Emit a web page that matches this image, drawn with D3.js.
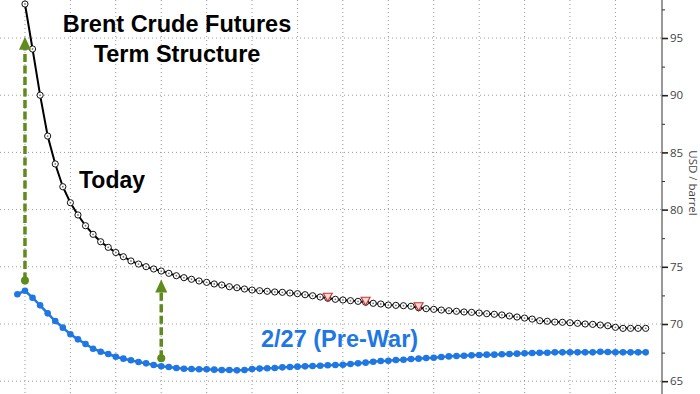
<!DOCTYPE html>
<html>
<head>
<meta charset="utf-8">
<script src="https://cdn.jsdelivr.net/npm/d3@7"></script>
<style>
  html, body { margin: 0; padding: 0; background: #fff; }
  svg { display: block; font-family: "Liberation Sans", Arial, sans-serif; }
</style>
</head>
<body>
<svg id="chart" width="700" height="394"></svg>
<script>
'use strict';

// Brent monthly contracts, index 0 = front month as of 2/27
var prewarCurve = [
    72.60, 72.91, 72.30, 71.63, 70.93, 70.26, 69.68, 69.10, 68.66, 68.25,
    67.84, 67.58, 67.38, 67.14, 66.97, 66.83, 66.68, 66.56, 66.42, 66.30,
    66.24, 66.15, 66.09, 66.07, 66.04, 66.04, 66.01, 65.98, 65.98, 65.95,
    65.98, 66.07, 66.10, 66.13, 66.15, 66.21, 66.24, 66.27, 66.30, 66.33,
    66.35, 66.39, 66.42, 66.44, 66.50, 66.56, 66.62, 66.70, 66.77, 66.79,
    66.85, 66.88, 66.94, 66.97, 67.03, 67.05, 67.11, 67.17, 67.20, 67.23,
    67.26, 67.29, 67.32, 67.32, 67.35, 67.38, 67.41, 67.44, 67.47, 67.49,
    67.49, 67.52, 67.52, 67.52, 67.52, 67.52, 67.52, 67.58, 67.55, 67.52,
    67.52, 67.52, 67.52, 67.52
];

// today's curve starts one contract later (front month has rolled)
var todayStart = 1;
var todayCurve = [
    97.97, 94.04, 90.00, 86.43, 83.99, 82.00, 80.60, 79.53, 78.59, 77.84,
    77.19, 76.70, 76.25, 75.88, 75.51, 75.24, 75.01, 74.81, 74.63, 74.43,
    74.22, 74.05, 73.91, 73.76, 73.64, 73.50, 73.41, 73.26, 73.17, 73.06,
    72.97, 72.91, 72.86, 72.80, 72.77, 72.71, 72.65, 72.56, 72.47, 72.36,
    72.25, 72.16, 72.10, 72.04, 71.98, 71.90, 71.81, 71.75, 71.66, 71.63,
    71.60, 71.55, 71.42, 71.34, 71.28, 71.22, 71.16, 71.11, 71.05, 71.02,
    70.96, 70.90, 70.85, 70.79, 70.70, 70.61, 70.52, 70.43, 70.29, 70.24,
    70.17, 70.15, 70.11, 70.06, 70.00, 69.97, 69.91, 69.85, 69.71, 69.62,
    69.62, 69.62, 69.62
];

var flaggedContracts = [41, 46, 53];
var gridContracts = [1, 7, 13, 19, 25, 31, 37, 43, 49, 55, 61, 67, 73, 79];
var yTicks = [65, 70, 75, 80, 85, 90, 95];
var yMinorTicks = [67.5, 72.5, 77.5, 82.5, 87.5, 92.5, 97.5];
var spreadArrows = [
    {contract: 1, from: 73.8, to: 95.1},
    {contract: 19, from: 67.0, to: 73.9}
];

var width = 700, height = 394, axisX = 662;
var blue = "#1f77e3", green = "#5f8a1c";

var x = d3.scaleLinear().domain([0, 83]).range([17.4, 645.7]);
var y = d3.scaleLinear().domain([65, 95]).range([381.2, 38]);

var svg = d3.select("#chart");

//Gridlines
var grid = svg.append("g").attr("class", "grid")
    .attr("stroke", "#9a9a9a")
    .attr("stroke-dasharray", "1,3");

grid.selectAll(".hgrid")
    .data(yTicks)
    .enter().append("line")
    .attr("class", "hgrid")
    .attr("x1", 0).attr("x2", axisX)
    .attr("y1", function(d) { return y(d); })
    .attr("y2", function(d) { return y(d); });

grid.selectAll(".vgrid")
    .data(gridContracts)
    .enter().append("line")
    .attr("class", "vgrid")
    .attr("x1", function(d) { return x(d); })
    .attr("x2", function(d) { return x(d); })
    .attr("y1", 0).attr("y2", height);

//Right axis
svg.append("line")
    .attr("x1", axisX).attr("x2", axisX)
    .attr("y1", 0).attr("y2", height)
    .attr("stroke", "#333");

var majorAxis = svg.append("g")
    .attr("transform", "translate(" + axisX + ",0)")
    .call(d3.axisRight(y).tickValues(yTicks).tickSize(6).tickPadding(2));
majorAxis.select(".domain").remove();
majorAxis.selectAll(".tick line").attr("stroke", "#222").attr("stroke-width", 1.6);
majorAxis.selectAll(".tick text")
    .attr("fill", "#444")
    .style("font-family", "'Open Sans', 'DejaVu Sans', sans-serif")
    .style("font-size", "11.5px");

var minorAxis = svg.append("g")
    .attr("transform", "translate(" + axisX + ",0)")
    .call(d3.axisRight(y).tickValues(yMinorTicks).tickSize(3).tickFormat(""));
minorAxis.select(".domain").remove();
minorAxis.selectAll(".tick line").attr("stroke", "#333");

svg.append("text")
    .attr("transform", "translate(689,183) rotate(90)")
    .attr("text-anchor", "middle")
    .attr("fill", "#444")
    .style("font-family", "'Open Sans', 'DejaVu Sans', sans-serif")
    .style("font-size", "11.5px")
    .text("USD / barrel");

//Curves
var prewarLine = d3.line()
    .x(function(d, i) { return x(i); })
    .y(function(d) { return y(d); });

var todayLine = d3.line()
    .x(function(d, i) { return x(i + todayStart); })
    .y(function(d) { return y(d); });

svg.append("path")
    .datum(prewarCurve)
    .attr("d", prewarLine)
    .attr("fill", "none")
    .attr("stroke", blue)
    .attr("stroke-width", 2.5);

svg.append("g").selectAll("circle")
    .data(prewarCurve)
    .enter().append("circle")
    .attr("cx", function(d, i) { return x(i); })
    .attr("cy", function(d) { return y(d); })
    .attr("r", 3.3)
    .attr("fill", blue);

svg.append("path")
    .datum(todayCurve)
    .attr("d", todayLine)
    .attr("fill", "none")
    .attr("stroke", "#000")
    .attr("stroke-width", 2);

var todayDots = svg.append("g").selectAll("g")
    .data(todayCurve)
    .enter().append("g")
    .attr("transform", function(d, i) {
        return "translate(" + x(i + todayStart) + "," + y(d) + ")";
    });
todayDots.append("circle")
    .attr("r", 3.1)
    .attr("fill", "#fff")
    .attr("stroke", "#111")
    .attr("stroke-width", 1);
todayDots.append("circle")
    .attr("r", 0.9)
    .attr("fill", "#777");

//Red flags on a few contracts
svg.append("g").selectAll("path")
    .data(flaggedContracts)
    .enter().append("path")
    .attr("d", "M-4.5,-4.5 L4.5,-4.5 L0,3.5 Z")
    .attr("transform", function(d) {
        return "translate(" + x(d) + "," + (y(todayCurve[d - todayStart]) - 0.5) + ")";
    })
    .attr("fill", "#f7d9d9")
    .attr("stroke", "#c8332b")
    .attr("stroke-width", 1.1);

//Green spread arrows
var arrows = svg.append("g").selectAll("g")
    .data(spreadArrows)
    .enter().append("g");

arrows.append("line")
    .attr("x1", function(d) { return x(d.contract); })
    .attr("x2", function(d) { return x(d.contract); })
    .attr("y1", function(d) { return y(d.from); })
    .attr("y2", function(d) { return y(d.to) + 11; })
    .attr("stroke", green)
    .attr("stroke-width", 3.5)
    .attr("stroke-dasharray", "8,3.5");

arrows.append("circle")
    .attr("cx", function(d) { return x(d.contract); })
    .attr("cy", function(d) { return y(d.from); })
    .attr("r", 4)
    .attr("fill", green);

arrows.append("path")
    .attr("d", "M0,0 L-6,13 L6,13 Z")
    .attr("transform", function(d) {
        return "translate(" + x(d.contract) + "," + y(d.to) + ")";
    })
    .attr("fill", green);

//Labels
var title = svg.append("text")
    .attr("text-anchor", "middle")
    .attr("font-weight", "bold")
    .style("font-size", "23.5px")
    .attr("fill", "#000");
title.append("tspan").attr("x", 177).attr("y", 32).text("Brent Crude Futures");
title.append("tspan").attr("x", 177).attr("y", 62).text("Term Structure");

svg.append("text")
    .attr("x", 79).attr("y", 188)
    .attr("font-weight", "bold")
    .style("font-size", "23px")
    .attr("fill", "#000")
    .text("Today");

svg.append("text")
    .attr("x", 261).attr("y", 347)
    .attr("font-weight", "bold")
    .style("font-size", "23.5px")
    .attr("fill", blue)
    .text("2/27 (Pre-War)");
</script>
</body>
</html>
